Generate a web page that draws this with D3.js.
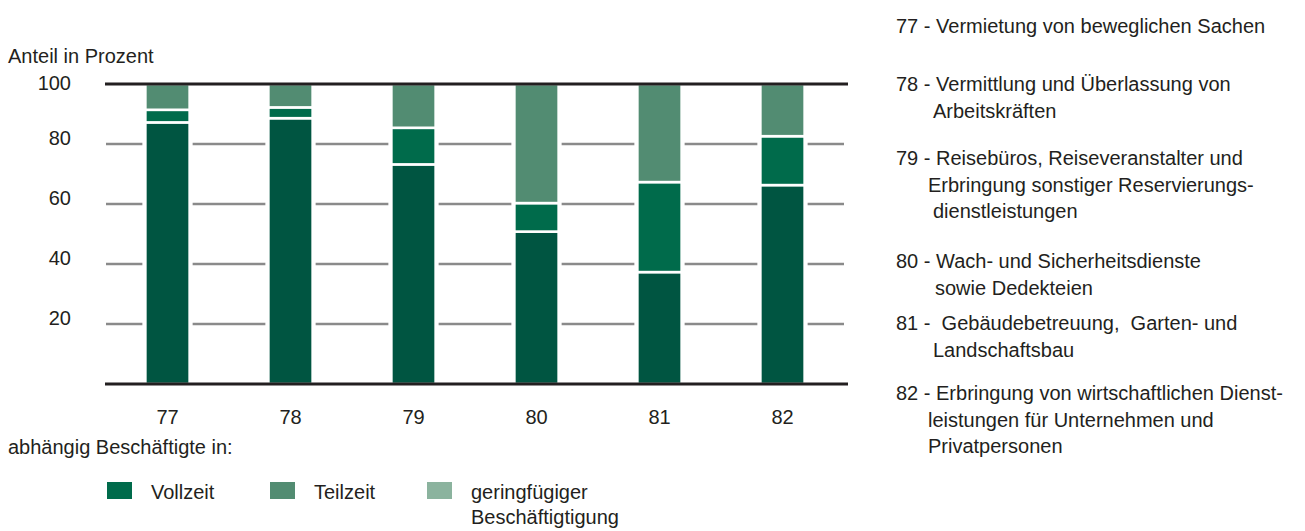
<!DOCTYPE html>
<html>
<head>
<meta charset="utf-8">
<style>
  body { margin: 0; background: #fff; }
  svg text { font-family: "Liberation Sans", Arial, sans-serif; fill: #231f20; font-size: 20px; white-space: pre; }
</style>
</head>
<body>
<script src="https://d3js.org/d3.v7.min.js"></script>
<div id="chart"></div>
<script>
// data (percent)
var branches = ["77", "78", "79", "80", "81", "82"]
var vollzeit = [87.2, 88.6, 73.2, 50.8, 37.3, 66.3]
var teilzeit = [4.2, 3.6, 12.2, 9.5, 30.0, 16.3]
var geringfuegig = [8.6, 7.8, 14.6, 39.7, 32.7, 17.4]
var yTicks = [20, 40, 60, 80, 100]

var segColors = ["#005541", "#006b4b", "#528c72"]
var legendLabels = [["Vollzeit"], ["Teilzeit"], ["geringfügiger", "Beschäftigtigung"]]
var legendColors = ["#006b4b", "#528c72", "#8bb39e"]

var notes = [
  { lines: ["77 - Vermietung von beweglichen Sachen"], indent: [], y: 26 },
  { lines: ["78 - Vermittlung und Überlassung von", "Arbeitskräften"], indent: [37], y: 84 },
  { lines: ["79 - Reisebüros, Reiseveranstalter und", "Erbringung sonstiger Reservierungs-", "dienstleistungen"], indent: [32, 37], y: 158 },
  { lines: ["80 - Wach- und Sicherheitsdienste", "sowie Dedekteien"], indent: [39], y: 261 },
  { lines: ["81 -  Gebäudebetreuung,  Garten- und", "Landschaftsbau"], indent: [37], y: 323 },
  { lines: ["82 - Erbringung von wirtschaftlichen Dienst-", "leistungen für Unternehmen und", "Privatpersonen"], indent: [32, 32], y: 393 }
]

var W = 1305, H = 531
var svg = d3.select("#chart").append("svg").attr("width", W).attr("height", H)

var x = d3.scaleBand().domain(branches).range([106, 844]).paddingInner(0.64).paddingOuter(0.32)
var y = d3.scaleLinear().domain([0, 100]).range([384, 84])

var rows = branches.map(function (b, i) {
  return { b: b, v: vollzeit[i], t: teilzeit[i], g: geringfuegig[i] }
})
var stack = d3.stack().keys(["v", "t", "g"])(rows)

// gridlines, broken around the bars
var gap = 3
var bw = x.bandwidth()
var gridSegs = []
yTicks.filter(function (t) { return t < 100 }).forEach(function (t) {
  var edges = [106]
  branches.forEach(function (b) { edges.push(x(b) - gap); edges.push(x(b) + bw + gap) })
  edges.push(844)
  for (var k = 0; k < edges.length; k += 2) gridSegs.push({ t: t, x1: edges[k], x2: edges[k + 1] })
})
svg.append("g").selectAll("line").data(gridSegs).join("line")
  .attr("x1", function (d) { return d.x1 }).attr("x2", function (d) { return d.x2 })
  .attr("y1", function (d) { return y(d.t) }).attr("y2", function (d) { return y(d.t) })
  .attr("stroke", "#8a8a8a").attr("stroke-width", 2.4)

// bars
svg.append("g").selectAll("g").data(stack).join("g")
  .attr("fill", function (d, i) { return segColors[i] })
  .selectAll("rect").data(function (d) { return d }).join("rect")
  .attr("x", function (d) { return x(d.data.b) })
  .attr("width", bw)
  .attr("y", function (d) { return y(d[1]) })
  .attr("height", function (d) { return y(d[0]) - y(d[1]) })
  .attr("stroke", "#fff").attr("stroke-width", 2.6)

svg.append("line").attr("x1", 105).attr("x2", 848).attr("y1", y(100)).attr("y2", y(100))
  .attr("stroke", "#231f20").attr("stroke-width", 3)
svg.append("line").attr("x1", 105).attr("x2", 848).attr("y1", y(0)).attr("y2", y(0))
  .attr("stroke", "#231f20").attr("stroke-width", 3)

// y tick labels (sit a little above their lines)
svg.append("g").selectAll("text").data(yTicks).join("text")
  .attr("x", 71).attr("y", function (d) { return d == 100 ? y(d) - 1 : y(d) - 6 })
  .attr("dy", "0.35em").attr("text-anchor", "end")
  .text(function (d) { return d })

// x labels
svg.append("g").selectAll("text").data(branches).join("text")
  .attr("x", function (d) { return x(d) + bw / 2 }).attr("y", 417)
  .attr("dy", "0.35em").attr("text-anchor", "middle")
  .text(function (d) { return d })

svg.append("text").attr("x", 8).attr("y", 56).attr("dy", "0.35em").text("Anteil in Prozent")
svg.append("text").attr("x", 8).attr("y", 447).attr("dy", "0.35em").text("abhängig Beschäftigte in:")

// legend
var legX = [107, 270, 427]
var leg = svg.append("g").selectAll("g").data(legendLabels).join("g")
leg.append("rect")
  .attr("x", function (d, i) { return legX[i] }).attr("y", 482)
  .attr("width", 25).attr("height", 17)
  .attr("fill", function (d, i) { return legendColors[i] })
leg.each(function (d, i) {
  var g = d3.select(this)
  d.forEach(function (s, j) {
    g.append("text").attr("x", legX[i] + 44).attr("y", 492 + j * 25)
      .attr("dy", "0.35em").text(s)
  })
})

// branch notes on the right
var nx = 896
notes.forEach(function (n) {
  n.lines.forEach(function (s, j) {
    svg.append("text").attr("x", j > 0 ? nx + n.indent[j - 1] : nx).attr("y", n.y + j * 26.5)
      .attr("dy", "0.35em").text(s)
  })
})
</script>
</body>
</html>
